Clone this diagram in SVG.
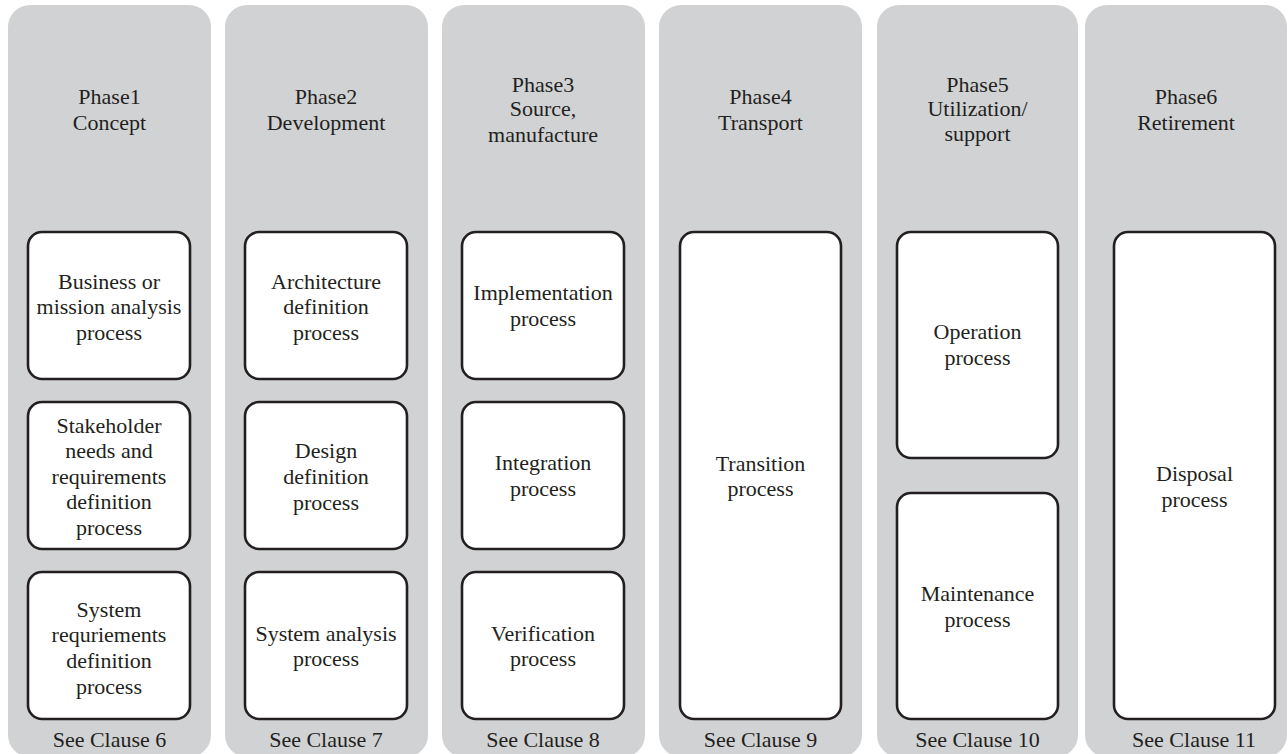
<svg xmlns="http://www.w3.org/2000/svg" width="1288" height="754" viewBox="0 0 1288 754">
<style>
.panel{fill:#d1d2d4;stroke:none}
.box{fill:#ffffff;stroke:#231f20;stroke-width:2.6}
text{font-family:"Liberation Serif","Times New Roman",serif;font-size:22px;fill:#231f20;text-anchor:middle}
</style>
<rect width="1288" height="754" fill="#ffffff"/>
<g id="phase1">
<rect class="panel" x="8" y="5" width="203" height="752" rx="22"/>
<text x="109.5" y="104">Phase1</text><text x="109.5" y="130">Concept</text>
<text x="109.5" y="747">See Clause 6</text>
</g>
<g id="phase2">
<rect class="panel" x="225" y="5" width="203" height="752" rx="22"/>
<text x="326" y="104">Phase2</text><text x="326" y="130">Development</text>
<text x="326" y="747">See Clause 7</text>
</g>
<g id="phase3">
<rect class="panel" x="442" y="5" width="203" height="752" rx="22"/>
<text x="543" y="92">Phase3</text><text x="543" y="116">Source,</text><text x="543" y="142">manufacture</text>
<text x="543" y="747">See Clause 8</text>
</g>
<g id="phase4">
<rect class="panel" x="659" y="5" width="203" height="752" rx="22"/>
<text x="760.5" y="104">Phase4</text><text x="760.5" y="130">Transport</text>
<text x="760.5" y="747">See Clause 9</text>
</g>
<g id="phase5">
<rect class="panel" x="877" y="5" width="201" height="752" rx="22"/>
<text x="977.5" y="92">Phase5</text><text x="977.5" y="116">Utilization/</text><text x="977.5" y="141">support</text>
<text x="977.5" y="747">See Clause 10</text>
</g>
<g id="phase6">
<rect class="panel" x="1085" y="5" width="202" height="752" rx="22"/>
<text x="1186" y="104">Phase6</text><text x="1186" y="130">Retirement</text>
<text x="1194" y="747">See Clause 11</text>
</g>
<g id="business-mission-analysis">
<rect class="box" x="28" y="232" width="162" height="147" rx="14"/>
<text x="109" y="289">Business or</text><text x="109" y="314">mission analysis</text><text x="109" y="340">process</text>
</g>
<g id="stakeholder-needs">
<rect class="box" x="28" y="402" width="162" height="147" rx="14"/>
<text x="109" y="433">Stakeholder</text><text x="109" y="458">needs and</text><text x="109" y="484">requirements</text><text x="109" y="509">definition</text><text x="109" y="535">process</text>
</g>
<g id="system-requirements">
<rect class="box" x="28" y="572" width="162" height="147" rx="14"/>
<text x="109" y="617">System</text><text x="109" y="642">requriements</text><text x="109" y="668">definition</text><text x="109" y="694">process</text>
</g>
<g id="architecture-definition">
<rect class="box" x="245" y="232" width="162" height="147" rx="14"/>
<text x="326" y="289">Architecture</text><text x="326" y="314">definition</text><text x="326" y="340">process</text>
</g>
<g id="design-definition">
<rect class="box" x="245" y="402" width="162" height="147" rx="14"/>
<text x="326" y="458">Design</text><text x="326" y="484">definition</text><text x="326" y="510">process</text>
</g>
<g id="system-analysis">
<rect class="box" x="245" y="572" width="162" height="147" rx="14"/>
<text x="326" y="641">System analysis</text><text x="326" y="666">process</text>
</g>
<g id="implementation">
<rect class="box" x="462" y="232" width="162" height="147" rx="14"/>
<text x="543" y="300">Implementation</text><text x="543" y="326">process</text>
</g>
<g id="integration">
<rect class="box" x="462" y="402" width="162" height="147" rx="14"/>
<text x="543" y="470">Integration</text><text x="543" y="496">process</text>
</g>
<g id="verification">
<rect class="box" x="462" y="572" width="162" height="147" rx="14"/>
<text x="543" y="641">Verification</text><text x="543" y="666">process</text>
</g>
<g id="transition">
<rect class="box" x="680" y="232" width="161" height="487" rx="14"/>
<text x="760.5" y="471">Transition</text><text x="760.5" y="496">process</text>
</g>
<g id="operation">
<rect class="box" x="897" y="232" width="161" height="226" rx="14"/>
<text x="977.5" y="339">Operation</text><text x="977.5" y="365">process</text>
</g>
<g id="maintenance">
<rect class="box" x="897" y="493" width="161" height="226" rx="14"/>
<text x="977.5" y="601">Maintenance</text><text x="977.5" y="627">process</text>
</g>
<g id="disposal">
<rect class="box" x="1114" y="232" width="161" height="487" rx="14"/>
<text x="1194.5" y="481">Disposal</text><text x="1194.5" y="507">process</text>
</g>
<g id="connectors"></g>
</svg>
